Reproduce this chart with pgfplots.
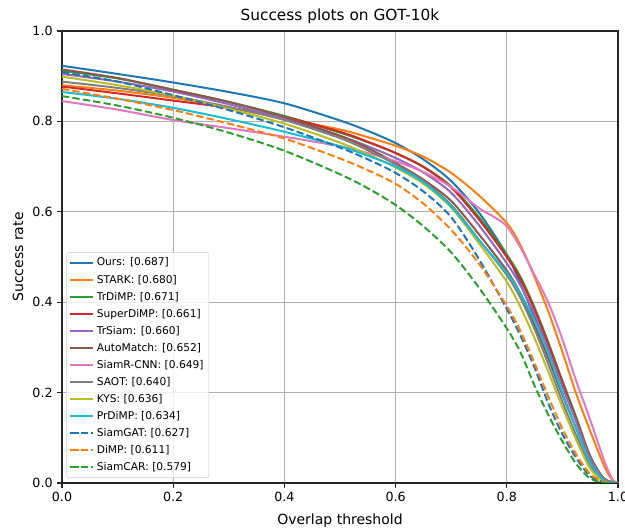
\documentclass[border=0pt]{standalone}
\usepackage{pgfplots}
\pgfplotsset{compat=1.18}
\usepackage{fontspec}
\setmainfont{DejaVu Sans}
\definecolor{C0}{HTML}{1F77B4}
\definecolor{C1}{HTML}{FF7F0E}
\definecolor{C2}{HTML}{2CA02C}
\definecolor{C3}{HTML}{D62728}
\definecolor{C4}{HTML}{9467BD}
\definecolor{C5}{HTML}{8C564B}
\definecolor{C6}{HTML}{E377C2}
\definecolor{C7}{HTML}{7F7F7F}
\definecolor{C8}{HTML}{BCBD22}
\definecolor{C9}{HTML}{17BECF}
\begin{document}
\begin{tikzpicture}
\begin{axis}[
  name=ax,
  scale only axis,
  width=417pt, height=339pt,
  xmin=0, xmax=1, ymin=0, ymax=1,
  xtick={0,0.2,0.4,0.6,0.8,1.0},
  ytick={0,0.2,0.4,0.6,0.8,1.0},
  /pgf/number format/assume math mode=true,
  /pgf/number format/fixed, /pgf/number format/fixed zerofill, /pgf/number format/precision=1,
  ticklabel style={font=\fontsize{9.5}{11}\selectfont},
  grid=major,
  grid style={color=black!31, line width=0.8pt},
  axis line style={color=black!85, line width=0.8pt},
  tick align=outside, tick pos=left,
  major tick length=3.5pt,
  tick style={color=black!85, line width=0.8pt},
  title={Success plots on GOT-10k},
  title style={font=\fontsize{11.5}{13}\selectfont, at={(0.5,1)}, anchor=south, yshift=-4pt},
  xlabel={Overlap threshold},
  ylabel={Success rate},
  label style={font=\fontsize{10.5}{12}\selectfont},
  xlabel style={yshift=-2pt},
  legend style={at={(0.008,0.011)}, anchor=south west, draw=black!20, rounded corners=2pt,
    fill=white, fill opacity=0.8, text opacity=1, font=\fontsize{8}{9.5}\selectfont,
    row sep=1.2pt, inner sep=2pt},
  legend cell align=left,
  every axis plot/.append style={line width=1.5pt, smooth},
]
\addplot[C0] coordinates {(0,0.923)(0.1,0.905)(0.2,0.886)(0.3,0.865)(0.4,0.840)(0.5,0.802)(0.55,0.779)(0.6,0.752)(0.65,0.716)(0.7,0.668)(0.75,0.598)(0.8,0.505)(0.825,0.440)(0.85,0.366)(0.875,0.300)(0.9,0.225)(0.925,0.140)(0.95,0.058)(0.975,0.008)(1,0)};
\addlegendentry{Ours: [0.687]}
\addplot[C1] coordinates {(0,0.880)(0.1,0.868)(0.2,0.852)(0.3,0.830)(0.4,0.806)(0.5,0.782)(0.55,0.765)(0.6,0.746)(0.65,0.722)(0.7,0.686)(0.75,0.636)(0.8,0.575)(0.825,0.525)(0.85,0.455)(0.875,0.378)(0.9,0.290)(0.925,0.197)(0.95,0.115)(0.975,0.038)(0.99,0.006)(1,0)};
\addlegendentry{STARK: [0.680]}
\addplot[C2] coordinates {(0,0.912)(0.1,0.895)(0.2,0.870)(0.3,0.843)(0.4,0.812)(0.5,0.775)(0.55,0.754)(0.6,0.730)(0.65,0.700)(0.7,0.656)(0.75,0.588)(0.8,0.505)(0.825,0.455)(0.85,0.388)(0.875,0.310)(0.9,0.226)(0.925,0.145)(0.95,0.060)(0.975,0.010)(1,0)};
\addlegendentry{TrDiMP: [0.671]}
\addplot[C3] coordinates {(0,0.877)(0.1,0.862)(0.2,0.846)(0.3,0.830)(0.4,0.810)(0.5,0.777)(0.55,0.755)(0.6,0.730)(0.65,0.699)(0.7,0.654)(0.75,0.583)(0.8,0.500)(0.825,0.450)(0.85,0.383)(0.875,0.305)(0.9,0.222)(0.925,0.140)(0.95,0.057)(0.975,0.009)(1,0)};
\addlegendentry{SuperDiMP: [0.661]}
\addplot[C4] coordinates {(0,0.905)(0.1,0.888)(0.2,0.866)(0.3,0.838)(0.4,0.806)(0.5,0.768)(0.55,0.745)(0.6,0.719)(0.65,0.687)(0.7,0.642)(0.75,0.570)(0.8,0.486)(0.825,0.436)(0.85,0.372)(0.875,0.295)(0.9,0.213)(0.925,0.135)(0.95,0.055)(0.975,0.009)(1,0)};
\addlegendentry{TrSiam: [0.660]}
\addplot[C5] coordinates {(0,0.915)(0.1,0.896)(0.2,0.870)(0.3,0.843)(0.4,0.810)(0.5,0.768)(0.55,0.741)(0.6,0.708)(0.65,0.671)(0.7,0.624)(0.75,0.550)(0.8,0.470)(0.825,0.418)(0.85,0.350)(0.875,0.275)(0.9,0.195)(0.925,0.120)(0.95,0.045)(0.975,0.006)(1,0)};
\addlegendentry{AutoMatch: [0.652]}
\addplot[C6] coordinates {(0,0.845)(0.1,0.826)(0.2,0.803)(0.3,0.785)(0.4,0.766)(0.5,0.745)(0.55,0.730)(0.6,0.712)(0.65,0.688)(0.7,0.655)(0.75,0.608)(0.775,0.590)(0.8,0.568)(0.825,0.520)(0.85,0.460)(0.875,0.398)(0.9,0.318)(0.925,0.225)(0.95,0.140)(0.975,0.050)(0.99,0.008)(1,0)};
\addlegendentry{SiamR-CNN: [0.649]}
\addplot[C7] coordinates {(0,0.888)(0.1,0.874)(0.2,0.856)(0.3,0.832)(0.4,0.803)(0.5,0.763)(0.55,0.736)(0.6,0.705)(0.65,0.668)(0.7,0.615)(0.75,0.538)(0.8,0.460)(0.825,0.408)(0.85,0.340)(0.875,0.262)(0.9,0.180)(0.925,0.105)(0.95,0.038)(0.975,0.004)(1,0)};
\addlegendentry{SAOT: [0.640]}
\addplot[C8] coordinates {(0,0.899)(0.1,0.880)(0.2,0.857)(0.3,0.828)(0.4,0.795)(0.5,0.753)(0.55,0.727)(0.6,0.698)(0.65,0.662)(0.7,0.609)(0.75,0.530)(0.8,0.445)(0.825,0.388)(0.85,0.320)(0.875,0.245)(0.9,0.168)(0.925,0.095)(0.95,0.032)(0.975,0.003)(1,0)};
\addlegendentry{KYS: [0.636]}
\addplot[C9] coordinates {(0,0.865)(0.1,0.850)(0.2,0.830)(0.3,0.805)(0.4,0.777)(0.5,0.745)(0.55,0.724)(0.6,0.700)(0.65,0.665)(0.7,0.612)(0.75,0.537)(0.8,0.465)(0.825,0.418)(0.85,0.358)(0.875,0.285)(0.9,0.200)(0.925,0.120)(0.95,0.045)(0.975,0.006)(1,0)};
\addlegendentry{PrDiMP: [0.634]}
\addplot[C0, dash pattern=on 5.5pt off 2.4pt] coordinates {(0,0.909)(0.1,0.888)(0.2,0.858)(0.3,0.825)(0.4,0.787)(0.5,0.742)(0.55,0.716)(0.6,0.686)(0.65,0.645)(0.7,0.588)(0.75,0.495)(0.8,0.385)(0.825,0.325)(0.85,0.255)(0.875,0.175)(0.9,0.108)(0.925,0.055)(0.95,0.015)(0.975,0.002)(1,0)};
\addlegendentry{SiamGAT: [0.627]}
\addplot[C1, dash pattern=on 5.5pt off 2.4pt] coordinates {(0,0.872)(0.1,0.850)(0.2,0.825)(0.3,0.795)(0.4,0.762)(0.5,0.718)(0.55,0.692)(0.6,0.662)(0.65,0.618)(0.7,0.560)(0.75,0.485)(0.8,0.392)(0.825,0.335)(0.85,0.265)(0.875,0.190)(0.9,0.120)(0.925,0.063)(0.95,0.020)(0.975,0.003)(1,0)};
\addlegendentry{DiMP: [0.611]}
\addplot[C2, dash pattern=on 5.5pt off 2.4pt] coordinates {(0,0.856)(0.1,0.835)(0.2,0.808)(0.3,0.775)(0.4,0.735)(0.5,0.683)(0.55,0.652)(0.6,0.615)(0.65,0.568)(0.7,0.510)(0.75,0.432)(0.8,0.342)(0.825,0.288)(0.85,0.215)(0.875,0.150)(0.9,0.092)(0.925,0.042)(0.95,0.010)(0.975,0.001)(1,0)};
\addlegendentry{SiamCAR: [0.579]}
\end{axis}
\pgfresetboundingbox
\path[use as bounding box] ([xshift=-46.5pt,yshift=-35.25pt]ax.south west) rectangle ([xshift=5.25pt,yshift=23.25pt]ax.north east);
\end{tikzpicture}
\end{document}
